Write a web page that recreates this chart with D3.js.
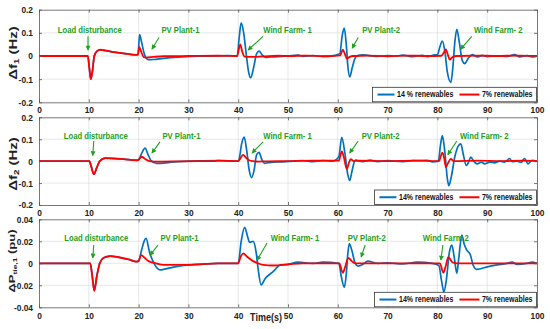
<!DOCTYPE html>
<html>
<head>
<meta charset="utf-8">
<script src="https://cdn.jsdelivr.net/npm/d3@7"></script>
<style>
  body { margin: 0; background: #fff; }
  text { font-family: "Liberation Sans", Arial, sans-serif; font-weight: bold; }
</style>
</head>
<body>
<div id="chart"></div>
<script>
// ---- data: [time (s), deviation] ----
const timeTicks = [0, 10, 20, 30, 40, 50, 60, 70, 80, 90, 100];
const freqTicks = [-0.2, -0.1, 0, 0.1, 0.2];
const tieTicks = [-0.04, -0.02, 0, 0.02, 0.04];

const eventNames = ["Load disturbance", "PV Plant-1", "Wind Farm- 1", "PV Plant-2", "Wind Farm- 2"];
const eventNamesTie = ["Load disturbance", "PV Plant-1", "Wind Farm- 1", "PV Plant-2", "Wind Farm 2"];
const legendTop = ["14 % renewables", "7% renewables"];
const legendOther = ["14% renewables", "7% renewables"];

// area 1 frequency
const f1Load = [[0, 0], [9.8, 0], [10.1, -0.05], [10.4, -0.1], [10.7, -0.07], [11.1, 0], [11.6, 0.02],
  [12.3, 0.027], [13.5, 0.023], [15, 0.017], [17, 0.011], [19.5, 0.005]];
const f1Red = f1Load.concat([[19.9, 0.006], [20.1, 0.039], [20.5, 0.02], [21, -0.004], [21.5, -0.007],
  [23, -0.004], [25, -0.001], [30, 0], [36, 0.001], [39.8, 0], [40.4, 0.05], [40.8, 0.02], [41.3, -0.003],
  [42.5, -0.004], [45, -0.002], [48, 0.001], [50, 0], [54, 0.002], [57, -0.001], [60.5, 0.003], [61, 0.027],
  [61.4, 0.01], [61.8, -0.011], [62.4, -0.004], [63, 0], [66, 0.002], [70, -0.001], [74, 0.002], [78, 0],
  [80.8, 0.001], [81.3, 0.015], [81.7, 0.029], [82.1, 0.005], [82.5, -0.016], [83, -0.005], [83.8, 0],
  [88, 0.002], [92, 0], [96, 0.002], [100, 0]]);
const f1Blue = f1Load.concat([[19.9, 0.01], [20.2, 0.092], [20.6, 0.06], [21.2, 0.005], [22, -0.016],
  [23, -0.015], [25, -0.01], [28, -0.005], [32, -0.001], [36, 0], [38, 0.002], [39.8, 0], [40.2, 0.08],
  [40.6, 0.143], [41.1, 0.1], [41.6, 0.01], [42.1, -0.07], [42.5, -0.094], [43.1, -0.05], [43.7, 0.01],
  [44.2, 0.021], [44.8, 0.005], [45.5, -0.006], [46.5, -0.004], [48, -0.003], [50, 0], [52, 0.004],
  [53, -0.002], [55, 0.002], [57, -0.002], [59.5, 0.003], [60.4, 0.01], [60.9, 0.09], [61.3, 0.12],
  [61.7, 0.05], [62, -0.04], [62.4, -0.09], [62.9, -0.05], [63.5, -0.008], [64, 0.002], [65, 0.005],
  [66, 0.003], [68, -0.002], [70, 0.002], [72, 0], [73, 0.004], [75, -0.003], [77, 0.003], [78, -0.003],
  [79.5, 0.005], [80, 0.005], [80.5, 0.04], [81, 0.064], [81.5, 0.02], [82, -0.07], [82.7, -0.114],
  [83.1, -0.05], [83.5, 0.06], [83.9, 0.115], [84.4, 0.06], [85, -0.02], [85.5, -0.033], [86.2, -0.01],
  [87, 0.006], [88, -0.004], [89, 0.003], [90, -0.003], [92, 0.001], [94, -0.002], [95.5, 0.006],
  [96.5, -0.004], [98, 0.002], [99, -0.004], [100, 0]]);

// area 2 frequency
const f2Load = [[0, 0], [10.1, 0], [10.5, -0.025], [11, -0.06], [11.6, -0.03], [12.2, 0], [13.3, 0.014],
  [15, 0.012], [17, 0.009], [19.6, 0.004]];
const f2Red = f2Load.concat([[20, 0.006], [20.6, 0.02], [21.3, 0.01], [22, 0.001], [23, -0.002],
  [25, -0.002], [28, -0.001], [32, 0], [35, 0], [36, 0.002], [40, 0], [40.5, 0.015], [41, 0.029],
  [41.6, 0.015], [42.3, 0.003], [43, 0], [44, -0.002], [46, -0.001], [50, 0], [55, 0.002], [60.2, 0.002],
  [60.8, 0.044], [61.2, 0.02], [61.8, -0.036], [62.2, -0.01], [62.6, 0.009], [63.2, 0], [64, 0.002],
  [70, 0], [75, 0.002], [80.3, 0], [81, 0.039], [81.4, 0.01], [81.7, -0.027], [82.1, -0.01], [82.7, 0.01],
  [83.3, 0], [88, 0.002], [93, 0], [97, 0.002], [100, 0]]);
const f2Blue = f2Load.concat([[20, 0.006], [20.5, 0.03], [21.3, 0.059], [21.9, 0.03], [22.5, 0.002],
  [23.6, -0.01], [25, -0.009], [26.5, -0.005], [28, -0.002], [30, 0], [36, 0.002], [40, 0], [40.2, 0.01],
  [40.7, 0.08], [41.2, 0.11], [41.7, 0.05], [42.2, -0.04], [42.7, -0.075], [43.2, -0.04], [43.7, 0.03],
  [44.2, 0.04], [44.7, 0.01], [45.3, -0.01], [46, -0.007], [47, -0.004], [49, -0.003], [51, 0],
  [53, 0.003], [55, -0.002], [57, 0.002], [59, 0], [60.2, 0.02], [60.8, 0.108], [61.4, 0.04], [62, -0.06],
  [62.4, -0.088], [62.9, -0.04], [63.5, 0.005], [64, 0.002], [65, -0.002], [66.5, 0.005], [68, -0.002],
  [70, 0.002], [73, -0.002], [75, 0.002], [78, 0.004], [79, -0.003], [80.2, 0], [80.6, 0.07], [81, 0.116],
  [81.5, 0.04], [82, -0.08], [82.3, -0.112], [82.8, -0.07], [83.5, 0.02], [84, 0.06], [84.7, 0.079],
  [85.2, 0.03], [85.8, -0.02], [86.2, -0.008], [86.7, 0.018], [87.3, 0], [88, -0.012], [88.8, -0.005],
  [89.5, -0.012], [90.5, -0.004], [91.5, -0.008], [92.5, 0], [93.5, -0.004], [94.5, 0.012], [95, -0.002],
  [96, 0], [96.8, -0.006], [97.5, 0.012], [98.2, -0.012], [99, 0.004], [100, 0]]);

// tie-line power
const ptLoad = [[0, 0], [10.3, 0], [10.7, -0.012], [11.1, -0.025], [11.6, -0.012], [12.2, 0], [13, 0.005],
  [14.3, 0.0066], [16, 0.0055], [18, 0.0035], [19.6, 0.0015]];
const ptRed = ptLoad.concat([[20, 0.002], [20.5, 0.0075], [21.2, 0.005], [22, 0.002], [23.5, 0],
  [25, -0.0015], [28, -0.0015], [32, -0.001], [36, 0], [40, 0], [40.5, 0.006], [41, 0.009], [41.8, 0.006],
  [43, 0.002], [44, 0], [45, -0.0015], [47, -0.002], [50, -0.001], [53, 0], [60.3, 0], [61, -0.0085],
  [61.5, -0.003], [62.1, 0.005], [62.8, 0.002], [63.5, 0], [80.5, 0], [81.2, -0.0085], [81.7, -0.002],
  [82.2, 0.0055], [83, 0.001], [84, 0], [100, 0]]);
const ptBlue = ptLoad.concat([[20, 0.002], [20.6, 0.012], [21.1, 0.02], [21.5, 0.0227], [22.2, 0.01],
  [23.1, 0], [24.3, -0.006], [25, -0.0055], [27, -0.0035], [29, -0.002], [32, -0.001], [36, 0], [40, 0],
  [40.6, 0.02], [41.3, 0.0327], [41.9, 0.024], [42.3, 0.019], [43, 0.02], [43.6, 0.01], [44, -0.005],
  [44.6, -0.0197], [45.4, -0.014], [47, -0.0076], [48.5, -0.0015], [50, -0.001], [52, 0.001], [55, 0],
  [57, 0.001], [60.2, 0], [60.7, -0.012], [61.3, -0.0218], [61.7, -0.01], [62, 0.008], [62.3, 0.018],
  [62.8, 0.012], [63.5, 0], [64.1, -0.0025], [65, -0.001], [66, 0.002], [68, 0], [70, 0.0005],
  [73, -0.0005], [76, 0.001], [79, 0], [80.3, -0.002], [80.8, -0.015], [81.3, -0.026], [81.8, -0.015],
  [82.4, 0.01], [82.9, 0.0166], [83.4, 0.005], [83.9, -0.009], [84.3, 0.005], [84.9, 0.0257], [85.4, 0.017],
  [85.9, 0.012], [86.6, 0.008], [87.2, -0.002], [87.9, -0.0055], [90.2, -0.003], [92, -0.0015], [94, 0],
  [95, 0.001], [96, -0.001], [98, 0], [99, 0.001], [100, 0]]);

// ---- layout ----
const W = 550, H = 329;
const X_LEFT = 39, X_RIGHT = 537;
const BLUE = "#0072bd", RED = "#ff0000", GREEN = "#23a023";
const SERIES_COLORS = [BLUE, RED];

// label centre (t, value) and arrow tail/head (t, value) for each event
const NOTE_PLACES = [
  [[10.2, 0.115, 9.84, 0.085, 9.84, 0.026], [28.4, 0.115, 24.1, 0.08, 22.7, 0.03], [49.9, 0.115, 45, 0.085, 42, 0.026],
   [68.7, 0.115, 64.1, 0.08, 62.9, 0.034], [92.2, 0.115, 86.9, 0.085, 84.7, 0.03]],
  [[11.4, 0.115, 11.0, 0.092, 10.8, 0.026], [28.6, 0.115, 24.3, 0.088, 22.7, 0.038], [49.9, 0.115, 45, 0.088, 42.8, 0.038],
   [68.6, 0.115, 64.1, 0.092, 62.4, 0.038], [89.4, 0.115, 83.9, 0.092, 82.1, 0.03]],
  [[11.5, 0.023, 11.0, 0.0166, 10.8, 0.005], [28.2, 0.023, 23.9, 0.0166, 22.3, 0.0075], [51.4, 0.023, 45.8, 0.0185, 43.8, 0.003],
   [65.8, 0.023, 65.5, 0.0166, 64.7, 0.0058], [81.7, 0.023, 81.1, 0.0166, 80.7, 0.003]]
];

const PANELS = [
  { top: 9.7, bottom: 102.3, domain: [-0.2, 0.2], ticks: freqTicks, blue: f1Blue, red: f1Red,
    names: eventNames, legend: legendTop, sym: "f", sub: "1", unit: " (Hz)", labelY: 53, labelSize: 15, pad: 4 },
  { top: 117.3, bottom: 205, domain: [-0.2, 0.2], ticks: freqTicks, blue: f2Blue, red: f2Red,
    names: eventNames, legend: legendOther, sym: "f", sub: "2", unit: " (Hz)", labelY: 164, labelSize: 15, pad: 4 },
  { top: 219.3, bottom: 307.3, domain: [-0.04, 0.04], ticks: tieTicks, blue: ptBlue, red: ptRed,
    names: eventNamesTie, legend: legendOther, sym: "P", sub: "tie,1", unit: " (pu)", labelY: 261, labelSize: 13, pad: 5.5 }
];

const svg = d3.select("#chart").append("svg")
  .attr("width", W).attr("height", H);
svg.append("rect").attr("width", W).attr("height", H).attr("fill", "#fff");

svg.append("defs").append("marker")
  .attr("id", "arrow")
  .attr("viewBox", "0 0 6 6")
  .attr("refX", 5).attr("refY", 3)
  .attr("markerWidth", 6).attr("markerHeight", 5)
  .attr("markerUnits", "userSpaceOnUse")
  .attr("orient", "auto")
  .append("path").attr("d", "M0,0 L6,3 L0,6 Z").attr("fill", GREEN);

const x = d3.scaleLinear().domain([0, 100]).range([X_LEFT, X_RIGHT]);

// narrow the bold text a bit, like the squeezed figure
function squeeze(sel, k) {
  sel.each(function () {
    const t = d3.select(this);
    const x0 = +t.attr("x") || 0, y0 = +t.attr("y") || 0;
    t.attr("x", 0).attr("y", 0).attr("transform", `translate(${x0},${y0}) scale(${k},1)`);
  });
}

function styleAxis(g, showText) {
  g.select(".domain").attr("stroke", "#555").attr("stroke-width", 0.8);
  g.selectAll(".tick line").attr("stroke", "#555").attr("stroke-width", 0.8);
  if (!showText) g.selectAll(".tick text").remove();
  else g.selectAll(".tick text").attr("fill", "#222").attr("font-size", "9.3px")
    .call(squeeze, 0.9);
}

PANELS.forEach((p, i) => {
  const y = d3.scaleLinear().domain(p.domain).range([p.bottom, p.top]);
  const g = svg.append("g");

  // grid
  g.append("g").selectAll("line").data(timeTicks.slice(1, -1)).join("line")
    .attr("x1", d => x(d)).attr("x2", d => x(d))
    .attr("y1", p.top).attr("y2", p.bottom)
    .attr("stroke", "#dcdcdc").attr("stroke-width", 0.7);
  g.append("g").selectAll("line").data(p.ticks.slice(1, -1)).join("line")
    .attr("x1", X_LEFT).attr("x2", X_RIGHT)
    .attr("y1", d => y(d)).attr("y2", d => y(d))
    .attr("stroke", "#dcdcdc").attr("stroke-width", 0.7);

  // curves
  const clipId = "clip" + i;
  g.append("clipPath").attr("id", clipId).append("rect")
    .attr("x", X_LEFT).attr("y", p.top).attr("width", X_RIGHT - X_LEFT).attr("height", p.bottom - p.top);
  const line = d3.line().x(d => x(d[0])).y(d => y(d[1])).curve(d3.curveMonotoneX);
  const curves = g.append("g").attr("clip-path", `url(#${clipId})`);
  curves.append("path").datum(p.blue).attr("d", line)
    .attr("fill", "none").attr("stroke", BLUE).attr("stroke-width", 1.7);
  curves.append("path").datum(p.red).attr("d", line)
    .attr("fill", "none").attr("stroke", RED).attr("stroke-width", 1.8);

  // axes, ticks pointing inward on all four sides
  g.append("g").attr("transform", `translate(0,${p.bottom})`)
    .call(d3.axisBottom(x).tickValues(timeTicks).tickSizeInner(-3).tickSizeOuter(0).tickPadding(p.pad).tickFormat(d3.format("d")))
    .call(styleAxis, true);
  g.append("g").attr("transform", `translate(0,${p.top})`)
    .call(d3.axisTop(x).tickValues(timeTicks).tickSizeInner(-3).tickSizeOuter(0))
    .call(styleAxis, false);
  g.append("g").attr("transform", `translate(${X_LEFT},0)`)
    .call(d3.axisLeft(y).tickValues(p.ticks).tickSizeInner(-3).tickSizeOuter(0).tickPadding(6).tickFormat(d => d === 0 ? "0" : String(d)))
    .call(styleAxis, true);
  g.append("g").attr("transform", `translate(${X_RIGHT},0)`)
    .call(d3.axisRight(y).tickValues(p.ticks).tickSizeInner(-3).tickSizeOuter(0))
    .call(styleAxis, false);
  g.selectAll(".domain").attr("fill", "none");

  // y label
  const lab = g.append("text")
    .attr("text-anchor", "middle")
    .attr("fill", "#222")
    .attr("font-size", p.labelSize + "px")
    .attr("transform", `translate(${i === 2 ? 15 : 17},${p.labelY}) rotate(-90) scale(1,0.7)`);
  lab.append("tspan").text("\u0394" + p.sym);
  lab.append("tspan").attr("font-size", (p.labelSize * 0.65) + "px").attr("dy", 3).text(p.sub);
  lab.append("tspan").attr("dy", -3).text(p.unit);

  // event annotations
  const notes = g.append("g");
  p.names.forEach((name, k) => {
    const pl = NOTE_PLACES[i][k];
    notes.append("text")
      .attr("x", x(pl[0])).attr("y", y(pl[1]))
      .attr("dy", "0.35em")
      .attr("text-anchor", "middle")
      .attr("font-size", "9.6px")
      .attr("fill", GREEN)
      .text(name)
      .call(squeeze, 0.8);
    notes.append("line")
      .attr("x1", x(pl[2])).attr("y1", y(pl[3]))
      .attr("x2", x(pl[4])).attr("y2", y(pl[5]))
      .attr("stroke", GREEN).attr("stroke-width", 1.1)
      .attr("marker-end", "url(#arrow)");
  });

  // legend
  const h = 14.5;
  const lg = g.append("g");
  const box = lg.append("rect");
  let cx = 0;
  p.legend.forEach((txt, k) => {
    cx += k === 0 ? 5 : 6;
    const len = k === 0 ? 17 : 20;
    lg.append("line").attr("x1", cx).attr("x2", cx + len).attr("y1", 0).attr("y2", 0)
      .attr("stroke", SERIES_COLORS[k]).attr("stroke-width", 2);
    cx += len + 2.5;
    const t = lg.append("text")
      .attr("dy", "0.35em").attr("font-size", "8.4px").attr("fill", "#111")
      .attr("transform", `translate(${cx},0) scale(0.84,1)`)
      .text(txt);
    cx += t.node().getComputedTextLength() * 0.84;
  });
  cx += 4;
  box.attr("x", 0).attr("y", -h / 2).attr("width", cx).attr("height", h)
    .attr("fill", "#fff").attr("stroke", "#333").attr("stroke-width", 0.8);
  lg.attr("transform", `translate(${X_RIGHT - cx - 0.5},${p.bottom - h / 2 - 0.5})`);
});

svg.append("text")
  .attr("x", 0).attr("y", 0)
  .attr("font-size", "10px")
  .attr("fill", "#222")
  .attr("text-anchor", "middle")
  .attr("transform", "translate(266,321) scale(0.9,1)")
  .text("Time(s)");
</script>
</body>
</html>
